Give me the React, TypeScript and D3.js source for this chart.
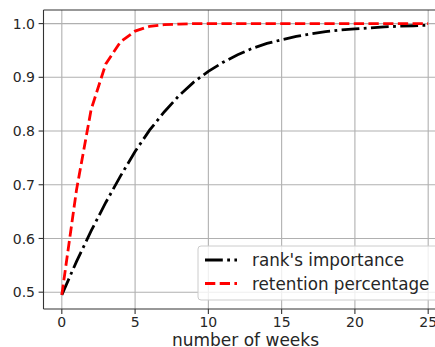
import React from "react";
import * as d3 from "d3";

const weeks = d3.range(0, 26);
const rankImportance = [
  0.495, 0.557, 0.614, 0.667, 0.716, 0.762, 0.802, 0.836, 0.866, 0.891,
  0.911, 0.928, 0.942, 0.954, 0.963, 0.97, 0.976, 0.981, 0.985, 0.988,
  0.99, 0.992, 0.994, 0.995, 0.996, 0.997,
];
const retention = [
  0.495, 0.69, 0.84, 0.925, 0.966, 0.986, 0.995, 0.998, 0.999, 1.0,
  1.0, 1.0, 1.0, 1.0, 1.0, 1.0, 1.0, 1.0, 1.0, 1.0,
  1.0, 1.0, 1.0, 1.0, 1.0, 1.0,
];
const xTicks = [0, 5, 10, 15, 20, 25];
const yTicks = [0.5, 0.6, 0.7, 0.8, 0.9, 1.0];
const seriesNames = ["rank's importance", "retention percentage"];
const xLabel = "number of weeks";

const W = 435;
const H = 347;
const FONT = "DejaVu Sans, sans-serif";

export default function App() {
  const left = 43.5;
  const right = 446.5;
  const top = 10;
  const bottom = 309;
  const x = d3.scaleLinear().domain([-1.25, 26.25]).range([left, right]);
  const y = d3.scaleLinear().domain([0.4687, 1.0253]).range([bottom, top]);

  const line = d3
    .line<number>()
    .x((_, i) => x(weeks[i]))
    .y((d) => y(d));

  return (
    <div style={{ position: "fixed", left: 0, top: 0 }}>
      <svg width={W} height={H} style={{ display: "block", background: "#fff" }}>
        <defs>
          <clipPath id="plot">
            <rect x={left} y={top} width={right - left} height={bottom - top} />
          </clipPath>
        </defs>
        {/* grid */}
        {xTicks.map((t) => (
          <line key={"gx" + t} x1={x(t)} x2={x(t)} y1={top} y2={bottom} stroke="#b0b0b0" strokeWidth={1.1} />
        ))}
        {yTicks.map((t) => (
          <line key={"gy" + t} x1={left} x2={right} y1={y(t)} y2={y(t)} stroke="#b0b0b0" strokeWidth={1.1} />
        ))}
        {/* lines */}
        <g clipPath="url(#plot)">
          <path
            d={line(rankImportance) || ""}
            fill="none"
            stroke="#000"
            strokeWidth={2.8}
            strokeDasharray="17.8,4.4,2.8,4.4"
          />
          <path
            d={line(retention) || ""}
            fill="none"
            stroke="#ff0000"
            strokeWidth={2.8}
            strokeDasharray="10.3,4.4"
          />
        </g>
        {/* spines */}
        <line x1={left} x2={left} y1={top} y2={bottom} stroke="#333" strokeWidth={1.1} />
        <line x1={left} x2={right} y1={bottom} y2={bottom} stroke="#333" strokeWidth={1.1} />
        <line x1={left} x2={right} y1={top} y2={top} stroke="#333" strokeWidth={1.1} />
        {/* x ticks */}
        {xTicks.map((t) => (
          <g key={"xt" + t}>
            <line x1={x(t)} x2={x(t)} y1={bottom} y2={bottom + 4.9} stroke="#333" strokeWidth={1.1} />
            <text x={x(t)} y={bottom + 18} textAnchor="middle" fontFamily={FONT} fontSize={14} fill="#262626">
              {t}
            </text>
          </g>
        ))}
        {/* y ticks */}
        {yTicks.map((t) => (
          <g key={"yt" + t}>
            <line x1={left - 4.9} x2={left} y1={y(t)} y2={y(t)} stroke="#333" strokeWidth={1.1} />
            <text
              x={left - 8.5}
              y={y(t)}
              dy="0.36em"
              textAnchor="end"
              fontFamily={FONT}
              fontSize={14}
              fill="#262626"
            >
              {d3.format(".1f")(t)}
            </text>
          </g>
        ))}
        <text x={245.5} y={345.5} textAnchor="middle" fontFamily={FONT} fontSize={17} fill="#262626">
          {xLabel}
        </text>
        {/* legend */}
        <g>
          <rect x={198} y={246} width={250} height={54} rx={3} fill="#fff" fillOpacity={0.8} stroke="#cccccc" strokeWidth={1} />
          <line x1={205} x2={237} y1={260} y2={260} stroke="#000" strokeWidth={2.8} strokeDasharray="17.8,4.4,2.8,4.4" />
          <line x1={205} x2={237} y1={283.5} y2={283.5} stroke="#ff0000" strokeWidth={2.8} strokeDasharray="10.3,4.4" />
          <text x={252} y={260} dy="0.36em" fontFamily={FONT} fontSize={16.8} fill="#262626">
            {seriesNames[0]}
          </text>
          <text x={252} y={283.5} dy="0.36em" fontFamily={FONT} fontSize={16.8} fill="#262626">
            {seriesNames[1]}
          </text>
        </g>
      </svg>
    </div>
  );
}
